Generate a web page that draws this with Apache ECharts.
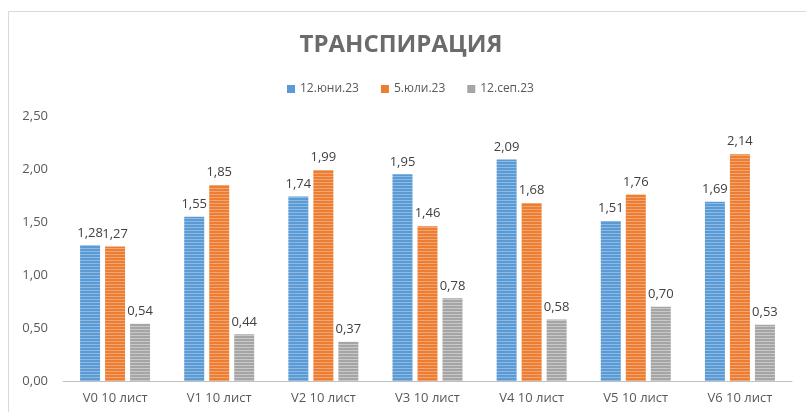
<!DOCTYPE html>
<html>
<head>
<meta charset="utf-8">
<script src="https://cdn.jsdelivr.net/npm/echarts@6/dist/echarts.min.js"></script>
<style>
  html, body { margin: 0; padding: 0; background: #fff; }
  #chart { width: 806px; height: 412px; }
</style>
</head>
<body>
<div id="chart"></div>
<script>
// категории и стойности
var categories = ["V0 10 лист", "V1 10 лист", "V2 10 лист", "V3 10 лист", "V4 10 лист", "V5 10 лист", "V6 10 лист"];
var seriesNames = ["12.юни.23", "5.юли.23", "12.сеп.23"];
var june = [1.28, 1.55, 1.74, 1.95, 2.09, 1.51, 1.69];
var july = [1.27, 1.85, 1.99, 1.46, 1.68, 1.76, 2.14];
var sept = [0.54, 0.44, 0.37, 0.78, 0.58, 0.70, 0.53];
var yTicks = [0, 0.5, 1, 1.5, 2, 2.5];

var font = "'Open Sans', 'Noto Sans', sans-serif";

// шарка с хоризонтални линии
function stripes(base, line) {
  var c = document.createElement("canvas");
  c.width = 4;
  c.height = 3;
  var ctx = c.getContext("2d");
  ctx.fillStyle = base;
  ctx.fillRect(0, 0, 4, 3);
  ctx.fillStyle = line;
  ctx.fillRect(0, 2, 4, 1);
  return { image: c, repeat: "repeat" };
}

function fmt(v) {
  return v.toFixed(2).replace(".", ",");
}

var solid = ["#5B9BD5", "#ED7D31", "#A5A5A5"];
var fills = [
  stripes("#5B9BD5", "#8DB9E2"),
  stripes("#ED7D31", "#F3A675"),
  stripes("#A5A5A5", "#C8C8C8")
];
var data = [june, july, sept];

var myChart = echarts.init(document.getElementById("chart"));
myChart.setOption({
  animation: false,
  textStyle: { fontFamily: font },
  graphic: [
    {
      type: "rect",
      shape: { x: 8.5, y: 11.5, width: 820, height: 420 },
      style: { fill: "none", stroke: "#D9D9D9", lineWidth: 1 }
    }
  ],
  title: {
    text: "ТРАНСПИРАЦИЯ",
    left: 396,
    textAlign: "center",
    top: 28,
    textStyle: { fontFamily: font, fontSize: 24, fontWeight: "bold", color: "#6B6B6B" }
  },
  legend: {
    data: seriesNames.map(function (n, i) {
      return { name: n, itemStyle: { color: solid[i] } };
    }),
    top: 78,
    left: 282,
    itemWidth: 8,
    itemHeight: 8,
    itemGap: 22,
    icon: "rect",
    textStyle: { fontFamily: font, fontSize: 12, color: "#595959" }
  },
  grid: { left: 63, right: 14, top: 116, bottom: 31 },
  xAxis: {
    type: "category",
    data: categories,
    axisLine: { lineStyle: { color: "#BFBFBF", width: 1 } },
    axisTick: { show: false },
    axisLabel: { fontFamily: font, fontSize: 13, color: "#595959", margin: 11 }
  },
  yAxis: {
    type: "value",
    min: yTicks[0],
    max: yTicks[yTicks.length - 1],
    interval: 0.5,
    splitLine: { show: false },
    axisLine: { show: false },
    axisTick: { show: false },
    axisLabel: {
      fontFamily: font,
      fontSize: 13,
      color: "#595959",
      margin: 15,
      formatter: fmt
    }
  },
  series: seriesNames.map(function (n, i) {
    return {
      name: n,
      type: "bar",
      data: data[i],
      barWidth: 20,
      barGap: "25%",
      itemStyle: { color: fills[i] },
      label: {
        show: true,
        position: "top",
        distance: 6,
        fontFamily: font,
        fontSize: 13,
        color: "#404040",
        formatter: function (p) { return fmt(p.value); }
      }
    };
  })
});
</script>
</body>
</html>
